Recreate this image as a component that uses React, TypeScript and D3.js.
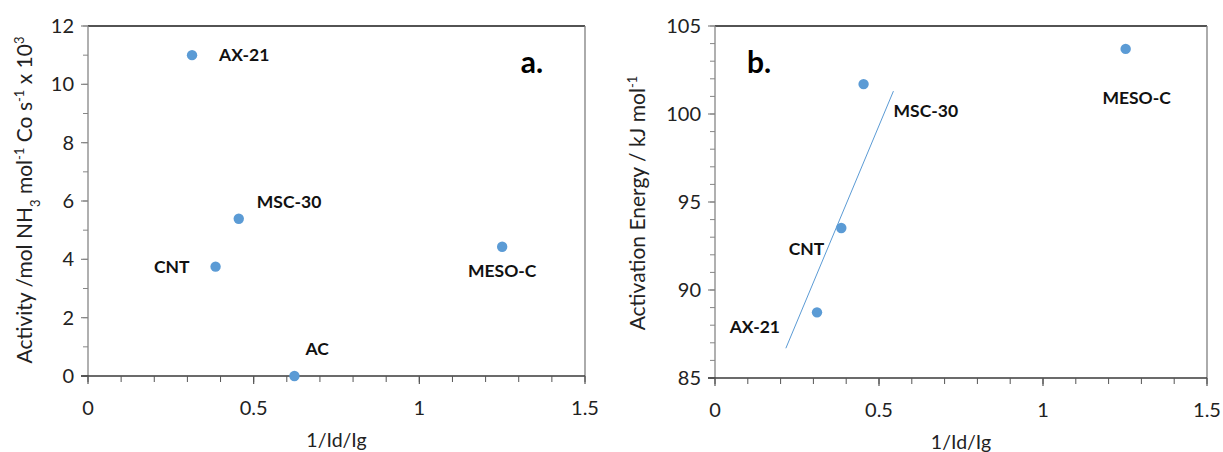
import React from "react";
import * as d3 from "d3";

// Panel a data
const aNames = ["AX-21", "MSC-30", "CNT", "MESO-C", "AC"];
const aX = [0.314, 0.455, 0.385, 1.25, 0.623];
const aY = [11.0, 5.39, 3.75, 4.43, 0.0];

// Panel b data
const bNames = ["AX-21", "CNT", "MSC-30", "MESO-C"];
const bX = [0.311, 0.385, 0.453, 1.252];
const bY = [88.73, 93.52, 101.7, 103.7];
const trendX = [0.216, 0.544];
const trendY = [86.69, 101.3];

const xTicks = [0, 0.5, 1, 1.5];
const aYTicks = [0, 2, 4, 6, 8, 10, 12];
const bYTicks = [85, 90, 95, 100, 105];

const FONT = "Lato, 'Open Sans', sans-serif";
const BLUE = "#5B9BD5";

type LabelPos = { dx: number; dy: number; anchor: string };

const aLabelPos: LabelPos[] = [
  { dx: 27, dy: 0, anchor: "start" },
  { dx: 18, dy: -17, anchor: "start" },
  { dx: -26, dy: 0, anchor: "end" },
  { dx: 0, dy: 24, anchor: "middle" },
  { dx: 11, dy: -27, anchor: "start" },
];
const bLabelPos: LabelPos[] = [
  { dx: -37, dy: 15, anchor: "end" },
  { dx: -17, dy: 21, anchor: "end" },
  { dx: 30, dy: 27, anchor: "start" },
  { dx: 11, dy: 49, anchor: "middle" },
];

function fmt(v: number) {
  return String(v);
}

function Panel(props: {
  left: number; right: number; top: number; bottom: number;
  yDomain: [number, number]; yTicks: number[]; yMinorStep: number;
  xs: number[]; ys: number[]; names: string[]; pos: LabelPos[];
  tag: string; tagX: number; tagY: number;
  yTitle: React.ReactNode; yTitleX: number; yTitleY: number;
  trend?: { x: number[]; y: number[] };
}) {
  const { left, right, top, bottom } = props;
  const x = d3.scaleLinear().domain([0, 1.5]).range([left, right]);
  const y = d3.scaleLinear().domain(props.yDomain).range([bottom, top]);
  const xMinor = d3.range(0, 1.5001, 0.1);
  const yMinor = d3.range(props.yDomain[0], props.yDomain[1] + 0.001, props.yMinorStep);
  const line = d3.line<number>().x((d, i) => x(props.trend!.x[i])).y((d, i) => y(props.trend!.y[i]));
  return (
    <g>
      {/* plot border */}
      <line x1={left} x2={right} y1={top} y2={top} stroke="#1a1a1a" strokeWidth={1.3} />
      <line x1={right} x2={right} y1={top} y2={bottom} stroke="#7f7f7f" strokeWidth={1.3} />
      {/* y axis */}
      <line x1={left} x2={left} y1={top} y2={bottom} stroke="#868686" strokeWidth={1.3} />
      {yMinor.map((v, i) => (
        <line key={"ym" + i} x1={left - 5} x2={left} y1={y(v)} y2={y(v)} stroke="#868686" strokeWidth={1} />
      ))}
      {props.yTicks.map((v, i) => (
        <g key={"yt" + i}>
          <line x1={left - 7} x2={left} y1={y(v)} y2={y(v)} stroke="#868686" strokeWidth={1.2} />
          <text x={left - 14} y={y(v)} dy="0.35em" textAnchor="end" fontFamily={FONT} fontSize={20} fill="#222">
            {fmt(v)}
          </text>
        </g>
      ))}
      {/* x axis */}
      <line x1={left - 7} x2={right} y1={bottom} y2={bottom} stroke="#3a3a3a" strokeWidth={1.3} />
      {xMinor.map((v, i) => (
        <line key={"xm" + i} x1={x(v)} x2={x(v)} y1={bottom} y2={bottom + 6} stroke="#555" strokeWidth={1} />
      ))}
      {xTicks.map((v, i) => (
        <g key={"xt" + i}>
          <line x1={x(v)} x2={x(v)} y1={bottom} y2={bottom + 8} stroke="#555" strokeWidth={1.2} />
          <text x={x(v)} y={bottom + 32} dy="0.35em" textAnchor="middle" fontFamily={FONT} fontSize={20} fill="#222">
            {fmt(v)}
          </text>
        </g>
      ))}
      <text x={(left + right) / 2} y={bottom + 64} dy="0.35em" textAnchor="middle" fontFamily={FONT} fontSize={19.5} fill="#222">
        1/Id/Ig
      </text>
      {/* y title */}
      <text
        transform={`translate(${props.yTitleX},${props.yTitleY}) rotate(-90)`}
        textAnchor="middle" dy="0.35em" fontFamily={FONT} fontSize={21} fill="#222"
      >
        {props.yTitle}
      </text>
      {/* trend line */}
      {props.trend && (
        <path d={line(props.trend.x) || ""} fill="none" stroke={BLUE} strokeWidth={1} />
      )}
      {/* points */}
      {props.xs.map((v, i) => (
        <circle key={"p" + i} cx={x(v)} cy={y(props.ys[i])} r={5.2} fill={BLUE} />
      ))}
      {props.names.map((n, i) => (
        <text
          key={"l" + i}
          x={x(props.xs[i]) + props.pos[i].dx}
          y={y(props.ys[i]) + props.pos[i].dy}
          dy="0.35em"
          textAnchor={props.pos[i].anchor}
          fontFamily={FONT}
          fontWeight="bold"
          fontSize={17.5}
          fill="#111"
        >
          {n}
        </text>
      ))}
      <text x={props.tagX} y={props.tagY} dy="0.35em" textAnchor="middle" fontFamily={FONT} fontWeight="bold" fontSize={30} fill="#000">
        {props.tag}
      </text>
    </g>
  );
}

export default function App() {
  const sup = (s: string) => (
    <tspan baselineShift="super" fontSize={13}>{s}</tspan>
  );
  const sub = (s: string) => (
    <tspan baselineShift="sub" fontSize={13}>{s}</tspan>
  );
  return (
    <svg width={1223} height={452} style={{ position: "absolute", left: 0, top: 0, background: "#fff" }}>
      <rect width={1223} height={452} fill="#fff" />
      <Panel
        left={88} right={585} top={26} bottom={376}
        yDomain={[0, 12]} yTicks={aYTicks} yMinorStep={1}
        xs={aX} ys={aY} names={aNames} pos={aLabelPos}
        tag="a." tagX={532} tagY={62}
        yTitleX={25} yTitleY={200}
        yTitle={<>Activity /mol NH{sub("3")} mol{sup("-1")} Co s{sup("-1")}  x 10{sup("3")}</>}
      />
      <Panel
        left={715} right={1207} top={26} bottom={378}
        yDomain={[85, 105]} yTicks={bYTicks} yMinorStep={1}
        xs={bX} ys={bY} names={bNames} pos={bLabelPos}
        tag="b." tagX={759} tagY={62}
        yTitleX={638} yTitleY={203}
        yTitle={<>Activation Energy / kJ mol{sup("-1")}</>}
        trend={{ x: trendX, y: trendY }}
      />
    </svg>
  );
}
